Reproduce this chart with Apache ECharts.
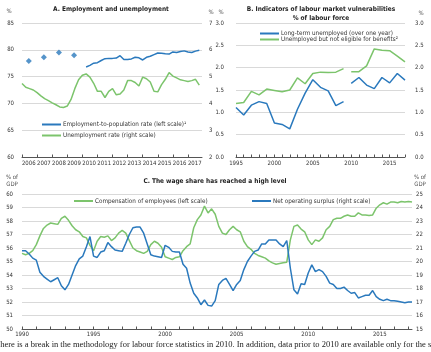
<!DOCTYPE html>
<html>
<head>
<meta charset="utf-8">
<script src="https://cdn.jsdelivr.net/npm/echarts@6/dist/echarts.min.js"></script>
<style>
  html, body { margin: 0; padding: 0; background: #fff; }
  #chart { width: 431px; height: 352px; }
</style>
</head>
<body>
<div id="chart"></div>
<script>
// Panel A: employment and unemployment (quarterly, 2006Q1 onwards)
var empDotYears = [2006.45, 2007.45, 2008.45, 2009.45]
var empDots = [77.9, 78.6, 79.5, 79.0]
var empStart = 2010.25
var empRate = [76.8, 77.1, 77.5,
  77.6, 78.0, 78.35, 78.4,
  78.4, 78.45, 78.9, 78.2,
  78.2, 78.3, 78.6, 78.5,
  78.1, 78.6, 78.8, 79.1,
  79.4, 79.35, 79.25, 79.2,
  79.6, 79.5, 79.7, 79.8,
  79.6, 79.5, 79.75, 79.9]
var unempStart = 2006
var unempRate = [4.74, 4.60, 4.55, 4.50,
  4.40, 4.28, 4.18, 4.10,
  4.02, 3.95, 3.87, 3.85,
  3.90, 4.15, 4.55, 4.88,
  5.05, 5.10, 4.98, 4.75,
  4.45, 4.45, 4.22, 4.45,
  4.55, 4.32, 4.35, 4.50,
  4.85, 4.85, 4.78, 4.65,
  4.98, 4.92, 4.80, 4.45,
  4.43, 4.70, 4.90, 5.15,
  5.02, 4.95, 4.88, 4.85,
  4.82, 4.85, 4.90, 4.68]
var yearsA = [2006, 2007, 2008, 2009, 2010, 2011, 2012, 2013, 2014, 2015, 2016, 2017]

// Panel B: labour market vulnerabilities (annual, break in 2010)
var yearsB = ['1995', '1996', '1997', '1998', '1999', '2000', '2001', '2002', '2003', '2004', '2005',
  '2006', '2007', '2008', '2009', '2010', '2011', '2012', '2013', '2014', '2015', '2016', '2017']
var longTerm = [1.11, 0.94, 1.16, 1.24, 1.20, 0.76, 0.73, 0.63, 1.07, 1.43, 1.73,
  1.56, 1.48, 1.15, 1.24, 1.65, 1.78, 1.61, 1.53, 1.78, 1.66, 1.87, 1.72]
var notEligible = [1.20, 1.22, 1.47, 1.39, 1.52, 1.49, 1.46, 1.50, 1.77, 1.64, 1.87,
  1.90, 1.89, 1.90, 1.98, 1.91, 1.91, 2.04, 2.42, 2.39, 2.38, 2.26, 2.13]
var breakYear = '2010'

// Panel C: wage share (quarterly, 1990Q1 onwards)
var wageStart = 1990
var compensation = [55.6, 55.5, 55.6, 55.8,
  56.25, 56.9, 57.45, 57.7,
  57.85, 57.8, 57.75, 58.2,
  58.35, 58.05, 57.65, 57.35,
  57.2, 56.85, 56.75, 56.2,
  55.8, 56.5, 56.85, 56.8,
  56.9, 56.55, 56.75, 57.1,
  57.3, 57.1, 56.55, 56.0,
  55.8, 55.7, 55.6, 55.75,
  56.25, 56.5, 56.35, 56.05,
  55.35, 55.25, 55.15, 55.3,
  55.35, 55.8, 56.1, 56.3,
  57.5, 58.1, 58.45, 59.1,
  58.6, 58.9, 58.5, 57.6,
  57.1, 57.0, 57.35, 57.6,
  57.35, 57.2, 56.5, 56.1,
  55.9, 55.6, 55.45, 55.35,
  55.25, 55.05, 54.9, 54.8,
  54.85, 54.9, 54.95, 56.6,
  57.6, 57.7, 57.4, 57.2,
  56.6, 56.25, 56.6, 56.5,
  56.75, 57.35, 57.6, 58.1,
  58.2, 58.2, 58.35, 58.45,
  58.35, 58.35, 58.6, 58.45,
  58.45, 58.4, 58.45, 58.95,
  59.2, 59.35, 59.25, 59.4,
  59.4, 59.35, 59.45, 59.4,
  59.45, 59.4]
var surplus = [20.8, 20.8, 20.55, 20.25,
  20.1, 19.2, 18.9, 18.7,
  18.5, 18.65, 18.8, 18.2,
  17.9, 18.3, 19.0, 19.7,
  20.2, 20.4, 21.1, 21.85,
  20.4, 20.3, 20.7, 20.8,
  21.4, 21.1, 20.85, 20.8,
  20.75, 21.35, 22.0, 22.5,
  22.55, 22.55, 22.1, 21.3,
  20.5, 20.4, 20.35, 20.3,
  21.2, 21.05, 20.75, 20.7,
  20.7, 19.8, 19.5, 18.4,
  17.65, 17.3, 16.8, 17.15,
  16.75, 16.7, 17.1, 18.3,
  18.6, 18.75, 18.3, 17.85,
  18.3, 18.6, 19.4, 20.0,
  20.4, 20.75, 20.85, 21.3,
  21.3, 21.6, 21.6, 21.6,
  21.3, 21.1, 21.55, 19.5,
  17.9, 17.6, 18.35, 18.3,
  19.15, 19.75, 19.25, 19.4,
  19.25, 18.9, 18.4, 18.3,
  18.0, 18.0, 18.1, 17.85,
  17.65, 17.7, 17.3, 17.4,
  17.5, 17.5, 17.85, 17.4,
  17.2, 17.1, 17.2, 17.1,
  17.1, 17.05, 17.0, 16.95,
  17.0, 17.0]
var yearsC = [1990, 1991, 1992, 1993, 1994, 1995, 1996, 1997, 1998, 1999, 2000, 2001, 2002,
  2003, 2004, 2005, 2006, 2007, 2008, 2009, 2010, 2011, 2012, 2013, 2014, 2015, 2016, 2017]
var labelsC = [1990, 1995, 2000, 2005, 2010, 2015]

var BLUE = '#2a79bd'
var GREEN = '#7cc46c'
var GRID = '#d9d9d9'
var TXT = '#333'
var narrow = "'Liberation Sans Narrow', 'Arial Narrow', 'DejaVu Sans Condensed', sans-serif"
var FS = 6     // tick labels
var LFS = 6.3  // legend text
var TFONT = 'bold 6.5px ' + narrow

function quarterly (start, values) {
  return values.map(function (v, i) { return [start + i / 4, v] })
}

// break in panel B: the series is drawn as two halves
var cutB = yearsB.indexOf(breakYear)
function half (values, first) {
  return values.map(function (v, i) {
    if (first) return i < cutB ? v : null
    return i >= cutB ? v : null
  })
}

function yAxisBase (gridIndex, min, max, interval, pos, margin, decimals) {
  return {
    type: 'value', gridIndex: gridIndex, min: min, max: max, interval: interval, position: pos,
    axisLine: { show: false }, axisTick: { show: false },
    splitLine: { show: pos === 'left', lineStyle: { color: GRID, width: 1 } },
    axisLabel: {
      color: TXT, fontFamily: narrow, fontSize: FS, margin: margin,
      formatter: function (v) { return decimals ? v.toFixed(decimals) : String(v) }
    }
  }
}

var xLine = { show: true, lineStyle: { color: '#555', width: 1 } }
var xTick = { show: true, inside: true, length: 2.5, lineStyle: { color: '#555', width: 1 } }

function lineStyleBase (color) {
  return { color: color, width: 1.5 }
}

function legendBox (left, top, gap, names) {
  return {
    left: left, top: top, orient: 'vertical', itemGap: gap, itemWidth: 19, itemHeight: 2,
    icon: 'rect', padding: 0,
    textStyle: { fontFamily: narrow, fontSize: LFS, color: TXT, padding: [0, 0, 0, -3] },
    data: names
  }
}

function label (x, y, text, font, color) {
  return {
    type: 'text', x: x, y: y,
    style: { text: text, font: font, fill: color, textAlign: 'center', textVerticalAlign: 'middle', lineHeight: 7 }
  }
}

var myChart = echarts.init(document.getElementById('chart'), null, { renderer: 'canvas' })
myChart.setOption({
  animation: false,
  grid: [
    { left: 22, top: 23, width: 180, height: 134 },
    { left: 236, top: 23, width: 169, height: 134 },
    { left: 22, top: 194, width: 390, height: 135 }
  ],
  xAxis: [
    {
      type: 'value', gridIndex: 0, min: 2006, max: 2017.93,
      axisLine: xLine,
      axisTick: Object.assign({}, xTick, { customValues: yearsA }),
      splitLine: { show: false },
      axisLabel: {
        color: TXT, fontFamily: narrow, fontSize: FS, margin: 3,
        customValues: yearsA.map(function (y) { return y + 0.45 }),
        formatter: function (v) { return String(Math.floor(v)) }
      }
    },
    {
      type: 'category', gridIndex: 1, data: yearsB, boundaryGap: false,
      axisLine: xLine,
      axisTick: Object.assign({}, xTick, { interval: 0 }),
      splitLine: { show: false },
      axisLabel: { color: TXT, fontFamily: narrow, fontSize: FS, margin: 3, interval: 4 }
    },
    {
      type: 'value', gridIndex: 2, min: 1990, max: 2017.25,
      axisLine: xLine,
      axisTick: Object.assign({}, xTick, { customValues: yearsC }),
      splitLine: { show: false },
      axisLabel: {
        color: TXT, fontFamily: narrow, fontSize: FS, margin: 2,
        customValues: labelsC,
        formatter: function (v) { return String(v) }
      }
    }
  ],
  yAxis: [
    yAxisBase(0, 60, 85, 5, 'left', 8, 0),
    yAxisBase(0, 2, 7, 1, 'right', 7, 0),
    yAxisBase(1, 0, 3, 0.5, 'left', 12, 1),
    yAxisBase(1, 0, 3, 0.5, 'right', 10, 1),
    yAxisBase(2, 50, 60, 1, 'left', 9, 0),
    yAxisBase(2, 15, 25, 1, 'right', 4, 0)
  ],
  legend: [
    legendBox(42, 121.5, 5, ['Employment-to-population rate (left scale)¹', 'Unemployment rate (right scale)']),
    legendBox(260, 30.5, 0, ['Long-term unemployed (over one year)', 'Unemployed but not eligible for benefits²']),
    legendBox(74, 198, 0, ['Compensation of employees (left scale)']),
    legendBox(252, 198, 0, ['Net operating surplus (right scale)'])
  ],
  graphic: [
    label(111, 9, 'A. Employment and unemployment', TFONT, '#222'),
    label(321, 9, 'B. Indicators of labour market vulnerabilities', TFONT, '#222'),
    label(321, 18.5, '% of labour force', TFONT, '#222'),
    label(215, 181, 'C. The wage share has reached a high level', TFONT, '#222'),
    label(9, 11, '%', '6px ' + narrow, '#555'),
    label(211, 12, '%', '6px ' + narrow, '#555'),
    label(221, 12.5, '%', '6px ' + narrow, '#555'),
    label(421, 13, '%', '6px ' + narrow, '#555'),
    label(12, 181, '% of\nGDP', '6px ' + narrow, '#555'),
    label(420, 181, '% of\nGDP', '6px ' + narrow, '#555'),
    {
      type: 'text', x: -5, y: 345,
      style: {
        text: 'There is a break in the methodology for labour force statistics in 2010. In addition, data prior to 2010 are available only for the second quarter.',
        font: "8.5px 'Liberation Serif', 'DejaVu Serif', serif", fill: '#222', textVerticalAlign: 'middle'
      }
    }
  ],
  series: [
    {
      name: 'Employment (annual, before 2010)', type: 'scatter', xAxisIndex: 0, yAxisIndex: 0,
      symbol: 'diamond', symbolSize: 6, itemStyle: { color: BLUE },
      data: empDotYears.map(function (y, i) { return [y, empDots[i]] })
    },
    {
      name: 'Employment-to-population rate (left scale)¹', type: 'line', xAxisIndex: 0, yAxisIndex: 0,
      showSymbol: false, lineStyle: lineStyleBase(BLUE), itemStyle: { color: BLUE },
      data: quarterly(empStart, empRate)
    },
    {
      name: 'Unemployment rate (right scale)', type: 'line', xAxisIndex: 0, yAxisIndex: 1,
      showSymbol: false, lineStyle: lineStyleBase(GREEN), itemStyle: { color: GREEN },
      data: quarterly(unempStart, unempRate)
    },
    {
      name: 'Long-term unemployed (over one year)', type: 'line', xAxisIndex: 1, yAxisIndex: 2,
      showSymbol: false, lineStyle: lineStyleBase(BLUE), itemStyle: { color: BLUE },
      data: half(longTerm, true)
    },
    {
      name: 'Long-term unemployed (over one year)', type: 'line', xAxisIndex: 1, yAxisIndex: 2,
      showSymbol: false, lineStyle: lineStyleBase(BLUE), itemStyle: { color: BLUE },
      data: half(longTerm, false)
    },
    {
      name: 'Unemployed but not eligible for benefits²', type: 'line', xAxisIndex: 1, yAxisIndex: 2,
      showSymbol: false, lineStyle: lineStyleBase(GREEN), itemStyle: { color: GREEN },
      data: half(notEligible, true)
    },
    {
      name: 'Unemployed but not eligible for benefits²', type: 'line', xAxisIndex: 1, yAxisIndex: 2,
      showSymbol: false, lineStyle: lineStyleBase(GREEN), itemStyle: { color: GREEN },
      data: half(notEligible, false)
    },
    {
      name: 'Compensation of employees (left scale)', type: 'line', xAxisIndex: 2, yAxisIndex: 4,
      showSymbol: false, lineStyle: lineStyleBase(GREEN), itemStyle: { color: GREEN },
      data: quarterly(wageStart, compensation)
    },
    {
      name: 'Net operating surplus (right scale)', type: 'line', xAxisIndex: 2, yAxisIndex: 5,
      showSymbol: false, lineStyle: lineStyleBase(BLUE), itemStyle: { color: BLUE },
      data: quarterly(wageStart, surplus)
    }
  ]
})
</script>
</body>
</html>
